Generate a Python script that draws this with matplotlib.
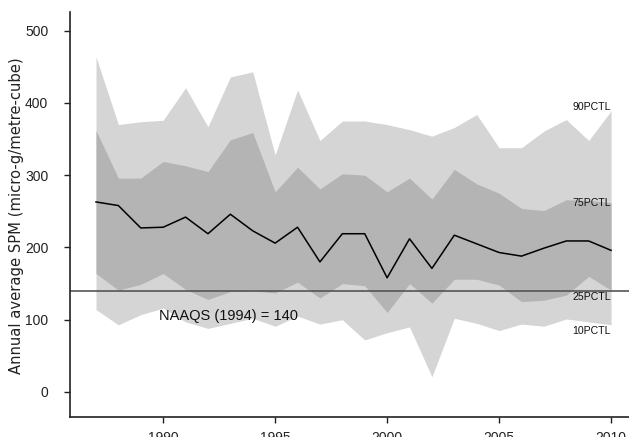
import matplotlib
matplotlib.use("Agg")
import matplotlib.pyplot as plt

# annual SPM percentiles
years = list(range(1987, 2011))
p10 = [114, 93, 107, 116, 97, 88, 95, 102, 91, 105, 94, 100,
       72, 82, 90, 21, 102, 95, 85, 94, 91, 101, 97, 93]
p25 = [164, 141, 149, 164, 142, 128, 139, 140, 137, 152, 130, 150,
       147, 110, 150, 123, 156, 156, 148, 125, 127, 134, 160, 141]
median = [263, 258, 227, 228, 242, 219, 246, 223, 206, 228, 180, 219,
          219, 158, 212, 171, 217, 205, 193, 188, 199, 209, 209, 196]
p75 = [362, 296, 296, 319, 313, 305, 349, 359, 277, 311, 281, 302,
       300, 277, 296, 267, 308, 288, 275, 254, 251, 266, 265, 262]
p90 = [464, 370, 374, 376, 421, 367, 436, 443, 328, 418, 348, 375,
       375, 370, 363, 354, 366, 384, 338, 338, 361, 377, 348, 389]

naaqs = 140
yticks = [0, 100, 200, 300, 400, 500]
xticks = [1990, 1995, 2000, 2005, 2010]

fig = plt.figure(figsize=(6.29, 4.37), dpi=100)
ax = fig.add_axes([0.112, 0.0458, 0.888, 0.927])

ax.fill_between(years, p10, p90, color='#d5d5d5', lw=0)
ax.fill_between(years, p25, p75, color='#b4b4b4', lw=0)
ax.plot(years, median, color='black', lw=1.1)
ax.axhline(naaqs, color='#555555', lw=1.2)

ax.text(1989.8, 100, 'NAAQS (1994) = 140', fontsize=10.5,
        family='Liberation Sans', color='#111111')
lab = dict(fontsize=7.6, family='Liberation Sans', ha='right', va='center', color='#111111')
ax.text(2010, 395, '90PCTL', **lab)
ax.text(2010, 262, '75PCTL', **lab)
ax.text(2010, 132, '25PCTL', **lab)
ax.text(2010, 85, '10PCTL', **lab)

ax.set_xlim(1985.86, 2010.8)
ax.set_ylim(-34.6, 526)
ax.set_xticks(xticks)
ax.set_yticks(yticks)
ax.tick_params(axis='both', direction='out', length=4, width=1, color='#222222')
ax.tick_params(axis='y', pad=12)
ax.tick_params(axis='x', pad=6)
for t in ax.get_xticklabels() + ax.get_yticklabels():
    t.set_family(['Liberation Sans Narrow', 'Liberation Sans'])
    t.set_fontsize(10)
    t.set_color('#222222')

for s in ['top', 'right']:
    ax.spines[s].set_visible(False)
for s in ['left', 'bottom']:
    ax.spines[s].set_linewidth(1.2)
    ax.spines[s].set_color('#222222')

# y label centred at about x=17px, midway up the axis
fig.text(17 / 629, 1 - 216 / 437, 'Annual average SPM (micro-g/metre-cube)',
         rotation=90, ha='center', va='center', fontsize=10.6,
         family='DejaVu Sans', color='#222222')

fig.savefig('out.png', dpi=100)
